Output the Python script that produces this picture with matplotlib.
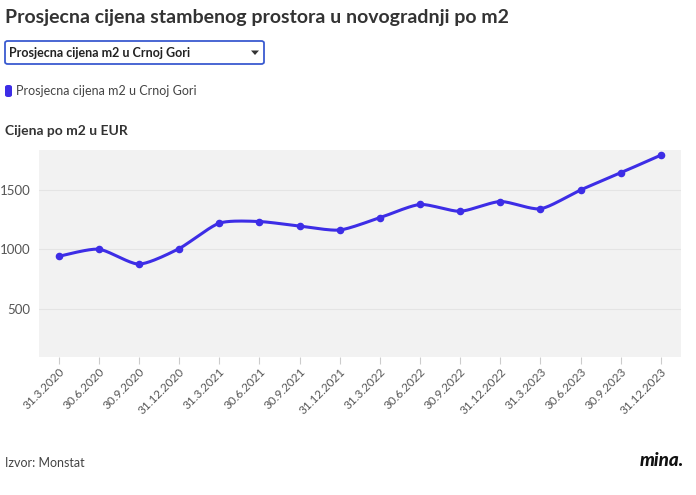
import numpy as np
import matplotlib.pyplot as plt
from matplotlib.patches import FancyBboxPatch, Polygon

plt.rcParams["font.family"] = ["Lato", "DejaVu Sans"]

# Data
dates = ["31.3.2020", "30.6.2020", "30.9.2020", "31.12.2020",
         "31.3.2021", "30.6.2021", "30.9.2021", "31.12.2021",
         "31.3.2022", "30.6.2022", "30.9.2022", "31.12.2022",
         "31.3.2023", "30.6.2023", "30.9.2023", "31.12.2023"]
prices = [940, 1000, 875, 1005, 1218, 1232, 1194, 1161,
          1264, 1375, 1318, 1400, 1339, 1497, 1641, 1789]
y_ticks = [500, 1000, 1500]

LINE = "#3d2de6"
TEXT = "#333333"


def smooth(x, y, n=20, t=0.35):
    # catmull-rom style spline through the points
    x = np.asarray(x, float)
    y = np.asarray(y, float)
    xs, ys = [], []
    for i in range(len(x) - 1):
        p0 = (x[max(i - 1, 0)], y[max(i - 1, 0)])
        p1 = (x[i], y[i])
        p2 = (x[i + 1], y[i + 1])
        p3 = (x[min(i + 2, len(x) - 1)], y[min(i + 2, len(x) - 1)])
        s = np.linspace(0, 1, n, endpoint=False)
        for a, b, c, d, out in ((p0[0], p1[0], p2[0], p3[0], xs), (p0[1], p1[1], p2[1], p3[1], ys)):
            m1 = t * (c - a)
            m2 = t * (d - b)
            h00 = 2 * s**3 - 3 * s**2 + 1
            h10 = s**3 - 2 * s**2 + s
            h01 = -2 * s**3 + 3 * s**2
            h11 = s**3 - s**2
            out.extend(h00 * b + h10 * m1 + h01 * c + h11 * m2)
    xs.append(x[-1])
    ys.append(y[-1])
    return np.array(xs), np.array(ys)


fig = plt.figure(figsize=(6.96, 4.95), dpi=100)
W, H = 696, 495

ax = fig.add_axes([38.5 / W, 1 - 356.5 / H, (681 - 38.5) / W, (356.5 - 150) / H])
ax.set_facecolor("#f2f2f2")

x = np.arange(len(prices))
sx, sy = smooth(x, prices)
ax.plot(sx, sy, color=LINE, lw=2.2, solid_capstyle="round", zorder=3)
ax.scatter(x, prices, s=20, color=LINE, zorder=4)

ax.set_xlim(-0.5, len(prices) - 0.5)
ax.set_ylim(100, 1832)
ax.set_yticks(y_ticks)
ax.set_yticklabels([str(v) for v in y_ticks], color="#555555", fontsize=9.5)
ax.set_xticks(x)
ax.set_xticklabels(dates, rotation=45, ha="right", rotation_mode="anchor",
                   color="#555555", fontsize=8.5)
ax.tick_params(axis="y", length=0, pad=6)
ax.tick_params(axis="x", length=5, color="#cccccc", pad=2)
ax.grid(axis="y", color="#e4e4e4", lw=0.8)
ax.set_axisbelow(True)
for sp in ax.spines.values():
    sp.set_visible(False)

# titles and header widgets
fig.text(5 / W, 1 - 17 / H, "Prosjecna cijena stambenog prostora u novogradnji po m2",
         fontsize=14, fontweight="bold", color=TEXT, va="center")

box = FancyBboxPatch((5 / W, 1 - 64 / H), 259 / W, 23 / H,
                     boxstyle="round,pad=0,rounding_size=0.004",
                     transform=fig.transFigure, fc="white", ec="#3a5bd0", lw=1.3)
fig.patches.append(box)
fig.text(9 / W, 1 - 53 / H, "Prosjecna cijena m2 u Crnoj Gori",
         fontsize=9, fontweight="bold", color="#222222", va="center")
arrow = Polygon([(251 / W, 1 - 50.5 / H), (259 / W, 1 - 50.5 / H), (255 / W, 1 - 55 / H)],
                closed=True, transform=fig.transFigure, fc="#333333", ec="none")
fig.patches.append(arrow)

leg = FancyBboxPatch((5 / W, 1 - 97 / H), 7 / W, 12 / H,
                     boxstyle="round,pad=0,rounding_size=0.004",
                     transform=fig.transFigure, fc=LINE, ec="none")
fig.patches.append(leg)
fig.text(16 / W, 1 - 91 / H, "Prosjecna cijena m2 u Crnoj Gori",
         fontsize=9, color="#444444", va="center")

fig.text(5 / W, 1 - 131 / H, "Cijena po m2 u EUR",
         fontsize=10, fontweight="bold", color=TEXT, va="center")

fig.text(5 / W, 1 - 463 / H, "Izvor: Monstat", fontsize=9, color="#444444", va="center")
fig.text(684 / W, 1 - 461 / H, "mina.", fontsize=13.5, fontweight="black",
         fontstyle="italic", color="#111111", va="center", ha="right")

fig.savefig("out.png", dpi=100)
